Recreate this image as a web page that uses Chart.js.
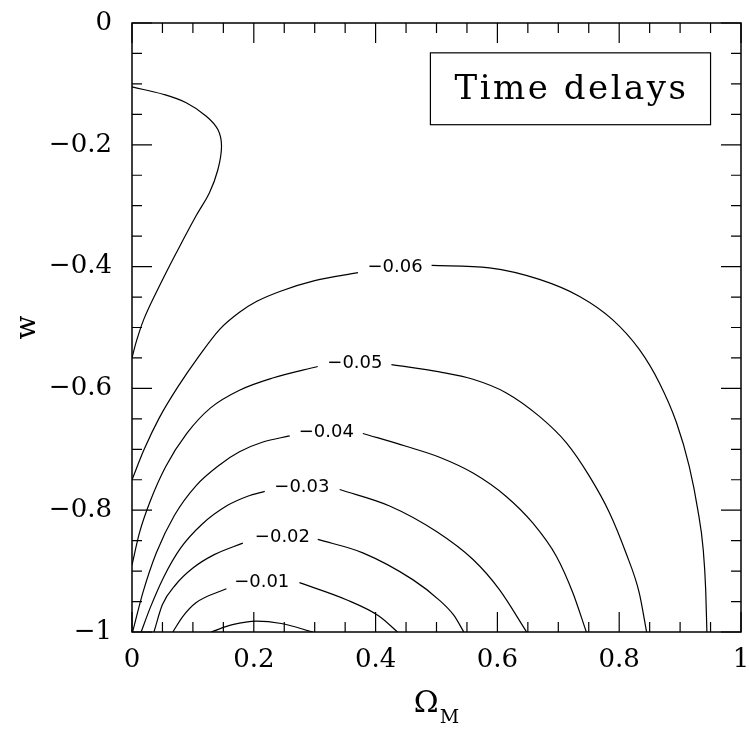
<!DOCTYPE html>
<html>
<head>
<meta charset="utf-8">
<script src="https://cdn.jsdelivr.net/npm/chart.js@4.4.1/dist/chart.umd.min.js"></script>
<style>
  html, body { margin: 0; padding: 0; background: #fff; }
  canvas { display: block; }
</style>
</head>
<body>
<canvas id="chart" width="750" height="730"></canvas>
<script>
// Axis tick labels
const xTickLabels = ['0', '0.2', '0.4', '0.6', '0.8', '1'];
const yTickLabels = ['0', '\u22120.2', '\u22120.4', '\u22120.6', '\u22120.8', '\u22121'];

// Contour paths, [Omega_M, w] pairs. Labelled contours are split where the level label sits.
const contourOuter = [
  [0, -0.105], [0.051, -0.117], [0.089, -0.131], [0.122, -0.153], [0.141, -0.175],
  [0.147, -0.202], [0.141, -0.241], [0.127, -0.279], [0.105, -0.317], [0.073, -0.377],
  [0.045, -0.432], [0.020, -0.485], [0.008, -0.520], [0, -0.550]
];
const c06Left = [
  [0, -0.750], [0.020, -0.700], [0.045, -0.648], [0.075, -0.598], [0.110, -0.547],
  [0.144, -0.503], [0.1765, -0.475], [0.205, -0.457], [0.245, -0.440], [0.300, -0.423],
  [0.371, -0.410]
];
const c06Right = [
  [0.492, -0.398], [0.587, -0.402], [0.669, -0.421], [0.735, -0.449], [0.789, -0.487],
  [0.833, -0.536], [0.866, -0.591], [0.894, -0.656], [0.915, -0.728], [0.929, -0.799],
  [0.938, -0.865], [0.942, -0.930], [0.944, -1.0]
];
const c05Left = [
  [0, -0.890], [0.012, -0.838], [0.030, -0.785], [0.055, -0.729], [0.090, -0.674],
  [0.129, -0.632], [0.1765, -0.603], [0.231, -0.583], [0.305, -0.564]
];
const c05Right = [
  [0.426, -0.561], [0.505, -0.573], [0.560, -0.585], [0.614, -0.607], [0.669, -0.646],
  [0.713, -0.689], [0.751, -0.744], [0.784, -0.804], [0.811, -0.870], [0.833, -0.936],
  [0.845, -1.0]
];
const c04Left = [
  [0.001, -1.0], [0.018, -0.935], [0.040, -0.870], [0.070, -0.808], [0.105, -0.760],
  [0.146, -0.724], [0.1765, -0.704], [0.215, -0.688], [0.259, -0.678]
];
const c04Right = [
  [0.379, -0.674], [0.450, -0.695], [0.505, -0.713], [0.560, -0.739], [0.614, -0.777],
  [0.658, -0.821], [0.697, -0.876], [0.724, -0.936], [0.746, -1.0]
];
const c03Left = [
  [0.015, -1.0], [0.030, -0.960], [0.052, -0.910], [0.080, -0.862], [0.115, -0.823],
  [0.157, -0.792], [0.190, -0.777], [0.218, -0.769]
];
const c03Right = [
  [0.341, -0.766], [0.423, -0.793], [0.500, -0.835], [0.560, -0.881], [0.603, -0.930],
  [0.648, -1.0]
];
const c02Left = [
  [0.036, -1.0], [0.050, -0.955], [0.072, -0.922], [0.100, -0.895], [0.135, -0.873],
  [0.182, -0.854]
];
const c02Right = [
  [0.305, -0.848], [0.379, -0.870], [0.461, -0.914], [0.505, -0.948], [0.528, -0.972],
  [0.545, -1.0]
];
const c01Left = [
  [0.067, -1.0], [0.083, -0.975], [0.105, -0.952], [0.155, -0.929]
];
const c01Right = [
  [0.275, -0.919], [0.352, -0.947], [0.406, -0.974], [0.436, -1.0]
];
const contourInner = [
  [0.130, -1.0], [0.165, -0.988], [0.204, -0.982], [0.245, -0.986], [0.297, -1.0]
];

// Level labels and where they sit on their contours
const contourLabels = ['\u22120.06', '\u22120.05', '\u22120.04', '\u22120.03', '\u22120.02', '\u22120.01'];
const labelOmega = [0.432, 0.366, 0.319, 0.279, 0.247, 0.213];
const labelW = [-0.402, -0.559, -0.672, -0.763, -0.845, -0.918];

// Legend box corners in data units
const boxOmega = [0.490, 0.950];
const boxW = [-0.049, -0.167];
const boxText = 'Time delays';

const paths = [contourOuter, c06Left, c06Right, c05Left, c05Right, c04Left, c04Right,
  c03Left, c03Right, c02Left, c02Right, c01Left, c01Right, contourInner];

// every piece except the folded outer contour is single-valued in Omega_M,
// so it can use monotone cubic interpolation
const datasets = paths.map(p => ({
  data: p.map(([x, y]) => ({ x, y })),
  showLine: true,
  borderColor: '#000',
  borderWidth: 1.2,
  pointRadius: 0,
  tension: 0.4,
  cubicInterpolationMode: p === contourOuter ? 'default' : 'monotone',
  fill: false
}));

const SERIF = '"DejaVu Serif", serif';

const frameAndLabels = {
  id: 'frameAndLabels',
  afterDatasetsDraw(chart) {
    const { ctx, chartArea: a, scales: { x, y } } = chart;
    ctx.save();

    // contour level labels
    ctx.fillStyle = '#000';
    ctx.font = '18px "DejaVu Sans", sans-serif';
    ctx.textAlign = 'center';
    ctx.textBaseline = 'middle';
    contourLabels.forEach((t, i) => {
      ctx.fillText(t, x.getPixelForValue(labelOmega[i]), y.getPixelForValue(labelW[i]));
    });

    // frame
    ctx.strokeStyle = '#000';
    ctx.lineWidth = 1.5;
    ctx.strokeRect(a.left, a.top, a.right - a.left, a.bottom - a.top);

    // inward ticks on all four sides: major every 0.2, minor every 0.05
    ctx.lineWidth = 1.2;
    ctx.beginPath();
    for (let i = 0; i <= 20; i++) {
      const len = i % 4 === 0 ? 20 : 10;
      const px = x.getPixelForValue(i * 0.05);
      const py = y.getPixelForValue(-i * 0.05);
      ctx.moveTo(px, a.bottom); ctx.lineTo(px, a.bottom - len);
      ctx.moveTo(px, a.top); ctx.lineTo(px, a.top + len);
      ctx.moveTo(a.left, py); ctx.lineTo(a.left + len, py);
      ctx.moveTo(a.right, py); ctx.lineTo(a.right - len, py);
    }
    ctx.stroke();

    // legend box
    const bx0 = x.getPixelForValue(boxOmega[0]);
    const bx1 = x.getPixelForValue(boxOmega[1]);
    const by0 = y.getPixelForValue(boxW[0]);
    const by1 = y.getPixelForValue(boxW[1]);
    ctx.lineWidth = 1.2;
    ctx.strokeRect(bx0, by0, bx1 - bx0, by1 - by0);
    ctx.font = '34px ' + SERIF;
    ctx.letterSpacing = '2.5px';
    ctx.textAlign = 'center';
    ctx.textBaseline = 'alphabetic';
    ctx.fillText(boxText, (bx0 + bx1) / 2 + 1, (by0 + by1) / 2 + 10);
    ctx.letterSpacing = '0px';

    // x-axis title: Omega with subscript M
    const cx = (a.left + a.right) / 2;
    ctx.textAlign = 'left';
    ctx.font = '30px ' + SERIF;
    const wOm = ctx.measureText('\u03A9').width;
    ctx.font = '19px ' + SERIF;
    const wM = ctx.measureText('M').width;
    const startX = cx - (wOm + wM + 1) / 2;
    ctx.font = '30px ' + SERIF;
    ctx.fillText('\u03A9', startX, 712);
    ctx.font = '19px ' + SERIF;
    ctx.fillText('M', startX + wOm + 1, 723);

    ctx.restore();
  }
};

new Chart(document.getElementById('chart'), {
  type: 'scatter',
  data: { datasets },
  options: {
    responsive: false,
    animation: false,
    events: [],
    layout: { padding: { top: 23, right: 9, left: 0, bottom: 0 } },
    plugins: { legend: { display: false }, tooltip: { enabled: false } },
    scales: {
      x: {
        type: 'linear',
        min: 0, max: 1,
        grid: { display: false, drawTicks: false },
        border: { display: false },
        afterFit: s => { s.height = 98; s.paddingLeft = 0; s.paddingRight = 0; },
        afterBuildTicks: s => { s.ticks = xTickLabels.map((_, i) => ({ value: i * 0.2 })); },
        ticks: {
          autoSkip: false,
          maxRotation: 0,
          padding: 13,
          color: '#000',
          font: { family: SERIF, size: 26 },
          callback: (v, i) => xTickLabels[i]
        }
      },
      y: {
        type: 'linear',
        min: -1, max: 0,
        grid: { display: false, drawTicks: false },
        border: { display: false },
        afterFit: s => { s.width = 132; s.paddingTop = 0; s.paddingBottom = 0; },
        afterBuildTicks: s => { s.ticks = yTickLabels.map((_, i) => ({ value: -1 + i * 0.2 })); },
        title: {
          display: true,
          text: 'w',
          color: '#000',
          font: { family: SERIF, size: 28 },
          padding: { top: 11, bottom: 0 }
        },
        ticks: {
          autoSkip: false,
          padding: 20,
          color: '#000',
          font: { family: SERIF, size: 26 },
          callback: (v, i) => yTickLabels[yTickLabels.length - 1 - i]
        }
      }
    }
  },
  plugins: [frameAndLabels]
});
</script>
</body>
</html>
